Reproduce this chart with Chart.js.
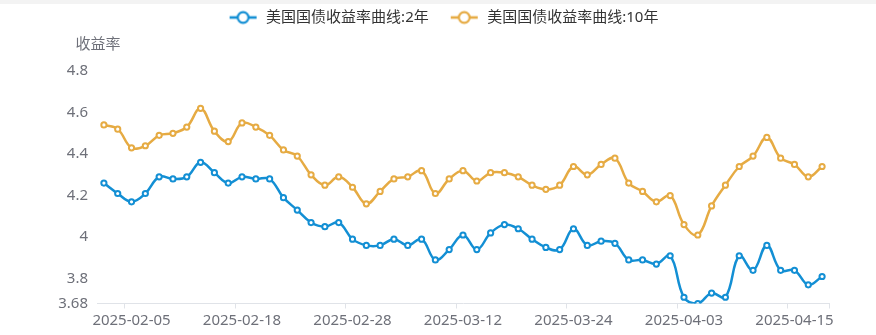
<!DOCTYPE html>
<html>
<head>
<meta charset="utf-8">
<title>美国国债收益率曲线</title>
<script src="https://cdn.jsdelivr.net/npm/chart.js@4/dist/chart.umd.min.js"></script>
<style>
  html, body { margin: 0; padding: 0; background: #ffffff; }
  #wrap { position: relative; width: 876px; height: 335px; }
  #strip { position: absolute; left: 0; top: 0; width: 876px; height: 4px; background: #f3f3f3; }
  canvas { display: block; }
</style>
</head>
<body>
<div id="wrap">
  <canvas id="chart" width="876" height="335"></canvas>
  <div id="strip"></div>
</div>
<script>
// Trading days, 2025-02-03 .. 2025-04-17
const dates = [
  '2025-02-03','2025-02-04','2025-02-05','2025-02-06','2025-02-07','2025-02-10','2025-02-11','2025-02-12','2025-02-13','2025-02-14',
  '2025-02-18','2025-02-19','2025-02-20','2025-02-21','2025-02-24','2025-02-25','2025-02-26','2025-02-27','2025-02-28',
  '2025-03-03','2025-03-04','2025-03-05','2025-03-06','2025-03-07','2025-03-10','2025-03-11','2025-03-12','2025-03-13','2025-03-14',
  '2025-03-17','2025-03-18','2025-03-19','2025-03-20','2025-03-21','2025-03-24','2025-03-25','2025-03-26','2025-03-27','2025-03-28',
  '2025-03-31','2025-04-01','2025-04-02','2025-04-03','2025-04-04','2025-04-07','2025-04-08','2025-04-09','2025-04-10','2025-04-11',
  '2025-04-14','2025-04-15','2025-04-16','2025-04-17'
];

// 2-year yield (%)
const yield2y = [
  4.26, 4.21, 4.17, 4.21, 4.29, 4.28, 4.29, 4.36, 4.31, 4.26,
  4.29, 4.28, 4.28, 4.19, 4.13, 4.07, 4.05, 4.07, 3.99,
  3.96, 3.96, 3.99, 3.96, 3.99, 3.89, 3.94, 4.01, 3.94, 4.02,
  4.06, 4.04, 3.99, 3.95, 3.94, 4.04, 3.96, 3.98, 3.97, 3.89,
  3.89, 3.87, 3.91, 3.71, 3.68, 3.73, 3.71, 3.91, 3.84, 3.96,
  3.84, 3.84, 3.77, 3.81
];

// 10-year yield (%)
const yield10y = [
  4.54, 4.52, 4.43, 4.44, 4.49, 4.50, 4.53, 4.62, 4.51, 4.46,
  4.55, 4.53, 4.49, 4.42, 4.39, 4.30, 4.25, 4.29, 4.24,
  4.16, 4.22, 4.28, 4.29, 4.32, 4.21, 4.28, 4.32, 4.27, 4.31,
  4.31, 4.29, 4.25, 4.23, 4.25, 4.34, 4.30, 4.35, 4.38, 4.26,
  4.22, 4.17, 4.20, 4.06, 4.01, 4.15, 4.25, 4.34, 4.39, 4.48,
  4.38, 4.35, 4.29, 4.34
];

const xTickLabels = ['2025-02-05','2025-02-18','2025-02-28','2025-03-12','2025-03-24','2025-04-03','2025-04-15'];
const yTickValues = [3.68, 3.8, 4, 4.2, 4.4, 4.6, 4.8];
const seriesNames = ['美国国债收益率曲线:2年', '美国国债收益率曲线:10年'];
const axisName = '收益率';

const BLUE = '#138fd4';
const GOLD = '#e6ab43';
const AXIS_TEXT = '#6e7079';
const AXIS_LINE = '#e0e3e8';
const FONT = '"Noto Sans", "Noto Sans CJK SC", sans-serif';

// Legend marker: short line with a hollow circle on it
function legendIcon(color) {
  const c = document.createElement('canvas');
  c.width = 41; c.height = 16;
  const g = c.getContext('2d');
  g.strokeStyle = color;
  g.lineWidth = 2.6;
  g.beginPath(); g.moveTo(12, 8); g.lineTo(39, 8); g.stroke();
  g.beginPath(); g.arc(25.5, 8, 5.4, 0, Math.PI * 2);
  g.fillStyle = '#ffffff'; g.fill();
  g.lineWidth = 2.2; g.stroke();
  return c;
}
const icons = [legendIcon(BLUE), legendIcon(GOLD)];

const showTickAt = i => i === undefined || i >= dates.length || xTickLabels.includes(dates[i]);

// Centre the legend on the whole canvas and put the axis name above the y axis
const placeBlocks = {
  id: 'placeBlocks',
  afterLayout(chart) {
    if (chart.legend) { chart.legend.left = 0; chart.legend.right = chart.width; }
    if (chart.titleBlock) {
      const cx = chart.chartArea.left + 1;
      chart.titleBlock.left = cx - 40;
      chart.titleBlock.right = cx + 40;
    }
  }
};

function lineSet(label, data, color) {
  return {
    label, data,
    borderColor: color,
    backgroundColor: '#ffffff',
    borderWidth: 2.5,
    pointRadius: 2.6,
    pointHoverRadius: 3.5,
    pointBorderWidth: 2,
    pointBackgroundColor: '#ffffff',
    pointBorderColor: color,
    tension: 0.4,
    fill: false
  };
}

new Chart(document.getElementById('chart'), {
  type: 'line',
  data: {
    labels: dates,
    datasets: [
      lineSet(seriesNames[0], yield2y, BLUE),
      lineSet(seriesNames[1], yield10y, GOLD)
    ]
  },
  plugins: [placeBlocks],
  options: {
    responsive: false,
    animation: false,
    devicePixelRatio: 1,
    layout: { padding: { left: 0, right: 47, top: 0, bottom: 0 } },
    plugins: {
      tooltip: { enabled: false },
      legend: {
        display: true,
        position: 'top',
        align: 'center',
        labels: {
          usePointStyle: true,
          pointStyleWidth: 41,
          padding: 10,
          color: '#333333',
          font: { family: FONT, size: 15 },
          generateLabels(chart) {
            return Chart.defaults.plugins.legend.labels.generateLabels(chart)
              .map((item, i) => Object.assign(item, { pointStyle: icons[i] }));
          }
        }
      },
      title: {
        display: true,
        text: axisName,
        align: 'center',
        weight: 500,
        color: AXIS_TEXT,
        font: { family: FONT, size: 15, weight: 'normal' },
        padding: { top: 1, bottom: 17 }
      }
    },
    scales: {
      x: {
        type: 'category',
        offset: true,
        grid: {
          display: true,
          offset: true,
          drawOnChartArea: false,
          drawTicks: true,
          tickLength: 5,
          lineWidth: 1,
          color: ctx => showTickAt(ctx.index) ? AXIS_LINE : 'rgba(0,0,0,0)',
          tickColor: ctx => showTickAt(ctx.index) ? AXIS_LINE : 'rgba(0,0,0,0)'
        },
        border: { display: true, color: AXIS_LINE, width: 1 },
        ticks: {
          autoSkip: false,
          maxRotation: 0,
          minRotation: 0,
          padding: 3,
          color: AXIS_TEXT,
          font: { family: FONT, size: 15 },
          callback: (v, i) => xTickLabels.includes(dates[i]) ? dates[i] : ''
        },
        afterFit: s => { s.height = 31.5; }
      },
      y: {
        type: 'linear',
        min: yTickValues[0],
        max: yTickValues[yTickValues.length - 1],
        afterBuildTicks: s => { s.ticks = yTickValues.map(v => ({ value: v })); },
        grid: { display: false, drawTicks: false },
        border: { display: false },
        ticks: {
          padding: 9,
          color: AXIS_TEXT,
          font: { family: FONT, size: 15 },
          callback: v => String(+Number(v).toFixed(2))
        },
        afterFit: s => { s.width = 97; }
      }
    }
  }
});
</script>
</body>
</html>
